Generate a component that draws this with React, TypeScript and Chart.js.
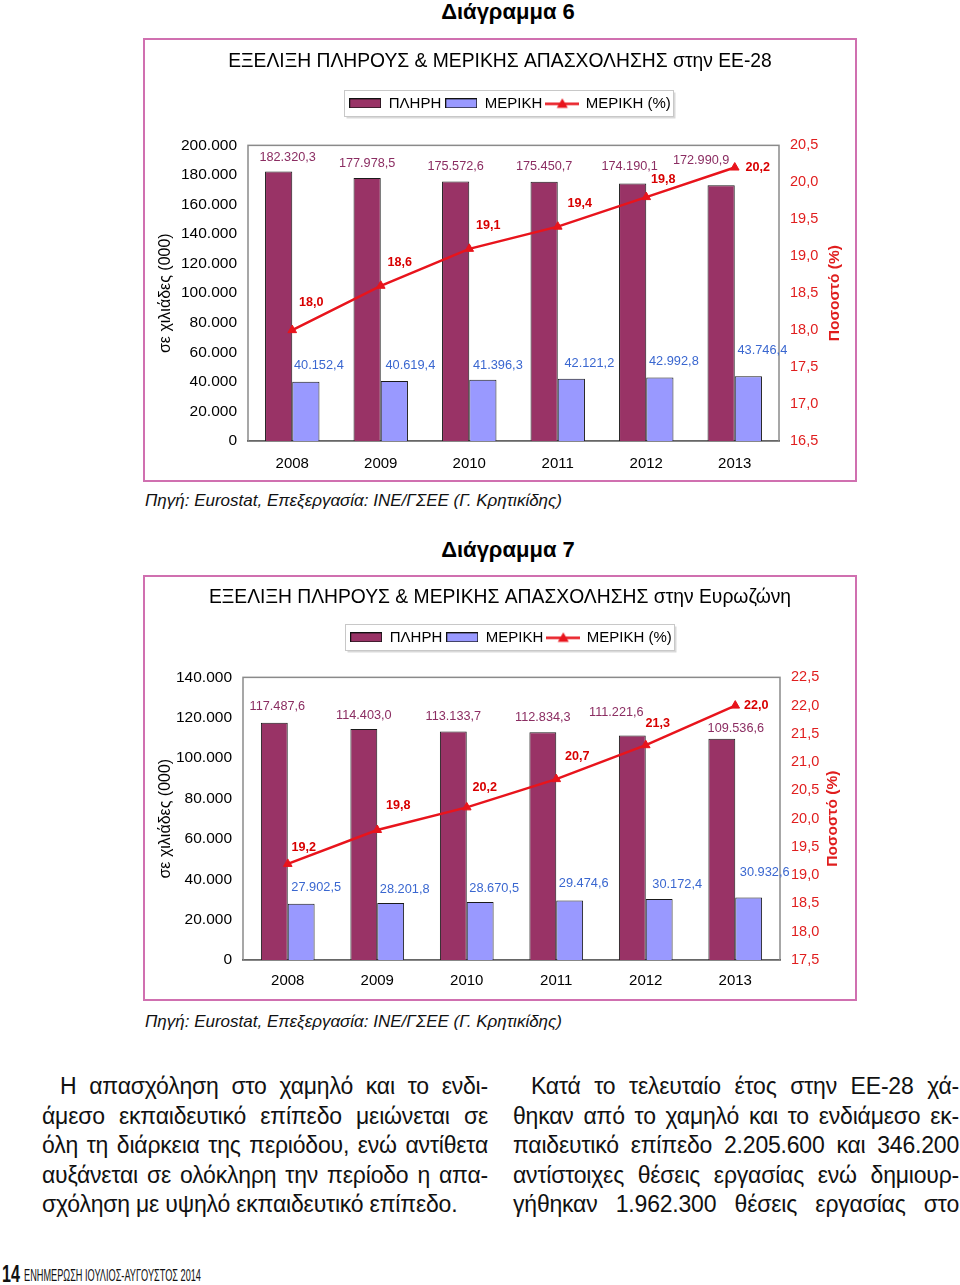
import { useEffect, useRef } from 'react';
import { Chart, registerables } from 'chart.js';

Chart.register(...registerables);

const F = "'Liberation Sans', Arial, Helvetica, sans-serif";

// ---- data ----
const years = ['2008', '2009', '2010', '2011', '2012', '2013'];
const seriesNames = ['ΠΛΗΡΗ', 'ΜΕΡΙΚΗ', 'ΜΕΡΙΚΗ (%)'];

const eu28Full = [182320.3, 177978.5, 175572.6, 175450.7, 174190.1, 172990.9];
const eu28Part = [40152.4, 40619.4, 41396.3, 42121.2, 42992.8, 43746.4];
const eu28Pct = [18.0, 18.6, 19.1, 19.4, 19.8, 20.2];
const eu28LeftTicks = [0, 20000, 40000, 60000, 80000, 100000, 120000, 140000, 160000, 180000, 200000];
const eu28RightTicks = [16.5, 17.0, 17.5, 18.0, 18.5, 19.0, 19.5, 20.0, 20.5];

const ezFull = [117487.6, 114403.0, 113133.7, 112834.3, 111221.6, 109536.6];
const ezPart = [27902.5, 28201.8, 28670.5, 29474.6, 30172.4, 30932.6];
const ezPct = [19.2, 19.8, 20.2, 20.7, 21.3, 22.0];
const ezLeftTicks = [0, 20000, 40000, 60000, 80000, 100000, 120000, 140000];
const ezRightTicks = [17.5, 18.0, 18.5, 19.0, 19.5, 20.0, 20.5, 21.0, 21.5, 22.0, 22.5];

const leftAxisTitle = 'σε χιλιάδες (000)';
const rightAxisTitle = 'Ποσοστό (%)';

// ---- styles ----
const COL_FULL = '#993366';
const COL_PART = '#9999FF';
const COL_LINE = '#E8141C';
const COL_FULL_LBL = '#8B2D62';
const COL_PART_LBL = '#3A67D0';
const COL_RED_TXT = '#E01E1E';

// label nudges (pixel offsets from each mark, as placed in the original)
const nudge6Full = [[9, -14], [0, -14], [0, -15], [0, -15], [-3, -17], [-20, -25]];
const nudge6Part = [[13, -16], [16, -15], [15, -14], [18, -15], [14, -16], [14, -26]];
const nudge6Pct = [[19, -28], [19, -23], [19, -23], [22, -23], [17, -18], [23, 0]];
const nudge7Full = [[3, -16], [0, -14], [0, -15], [0, -15], [-16, -23], [14, -10]];
const nudge7Part = [[15, -16], [14, -14], [14, -14], [14, -17], [18, -15], [16, -25]];
const nudge7Pct = [[16, -16], [21, -24], [18, -20], [21, -23], [12, -22], [21, 0]];

function fmt(v: number, dec: number) {
  const s = v.toFixed(dec);
  const [i, d] = s.split('.');
  const ii = i.replace(/\B(?=(\d{3})+(?!\d))/g, '.');
  return d ? ii + ',' + d : ii;
}

function rectSwatch(fill: string) {
  const c = document.createElement('canvas');
  c.width = 32;
  c.height = 10;
  const x = c.getContext('2d')!;
  x.fillStyle = fill;
  x.fillRect(0.5, 0.5, 31, 9);
  x.strokeStyle = '#111';
  x.lineWidth = 1;
  x.strokeRect(0.5, 0.5, 31, 9);
  return c;
}

function lineSwatch(color: string) {
  const c = document.createElement('canvas');
  c.width = 34;
  c.height = 12;
  const x = c.getContext('2d')!;
  x.strokeStyle = color;
  x.lineWidth = 2.5;
  x.beginPath();
  x.moveTo(0, 6.5);
  x.lineTo(34, 6.5);
  x.stroke();
  x.fillStyle = color;
  x.beginPath();
  x.moveTo(17, 1);
  x.lineTo(22.5, 10.5);
  x.lineTo(11.5, 10.5);
  x.closePath();
  x.fill();
  return c;
}

type Cfg = {
  title: string;
  full: number[];
  part: number[];
  pct: number[];
  leftTicks: number[];
  rightTicks: number[];
  nFull: number[][];
  nPart: number[][];
  nPct: number[][];
  catPct: number;
  titleTop: number;
  titleBottom: number;
  legendExtra: number;
  legendShift: number;
  leftW: number;
  rightW: number;
  xH: number;
  xPad: number;
  rightTitleX: number;
};

function makeChart(canvas: HTMLCanvasElement, cfg: Cfg) {
  const swatches = [rectSwatch(COL_FULL), rectSwatch(COL_PART), lineSwatch(COL_LINE)];

  const layoutTweak = {
    id: 'layoutTweak',
    beforeLayout(chart: any) {
      const lg = chart.legend;
      if (lg && !lg.__patched) {
        lg.__patched = true;
        const fit = lg.fit.bind(lg);
        lg.fit = function () {
          fit();
          this.height += cfg.legendExtra;
        };
        const draw = lg.draw.bind(lg);
        lg.draw = function () {
          const ctx = this.ctx;
          ctx.save();
          ctx.translate(cfg.legendShift, 0);
          draw();
          ctx.restore();
        };
      }
    },
    beforeDraw(chart: any) {
      const lg = chart.legend;
      const hb = lg && lg.legendHitBoxes;
      if (!hb || !hb.length) return;
      const ctx = chart.ctx;
      let l = Infinity, r = -Infinity;
      hb.forEach((h: any) => {
        l = Math.min(l, h.left);
        r = Math.max(r, h.left + h.width);
      });
      const cy = hb[0].top + 7.5;
      const x0 = Math.round(l - 5 + cfg.legendShift) + 0.5;
      const x1 = Math.round(r + 2 + cfg.legendShift) + 0.5;
      const y0 = Math.round(cy - 13) + 0.5;
      const y1 = Math.round(cy + 13) + 0.5;
      ctx.save();
      ctx.fillStyle = '#d9d9d9';
      ctx.fillRect(x0 + 2, y0 + 2, x1 - x0, y1 - y0);
      ctx.fillStyle = '#ffffff';
      ctx.fillRect(x0, y0, x1 - x0, y1 - y0);
      ctx.strokeStyle = '#c8c8c8';
      ctx.lineWidth = 1;
      ctx.strokeRect(x0, y0, x1 - x0, y1 - y0);
      ctx.restore();
    },
    beforeDatasetsDraw(chart: any) {
      const a = chart.chartArea;
      const ctx = chart.ctx;
      ctx.save();
      ctx.strokeStyle = '#8a8a8a';
      ctx.lineWidth = 1.5;
      ctx.strokeRect(a.left, a.top, a.right - a.left, a.bottom - a.top);
      ctx.restore();
    },
    afterDatasetsDraw(chart: any) {
      const ctx = chart.ctx;
      ctx.save();
      ctx.textBaseline = 'middle';
      ctx.textAlign = 'center';
      const nudges = [cfg.nFull, cfg.nPart, cfg.nPct];
      chart.data.datasets.forEach((ds: any, di: number) => {
        const meta = chart.getDatasetMeta(di);
        meta.data.forEach((el: any, i: number) => {
          const v = ds.data[i];
          const [dx, dy] = nudges[di][i];
          if (di === 0) {
            ctx.fillStyle = COL_FULL_LBL;
            ctx.font = `12.7px ${F}`;
          } else if (di === 1) {
            ctx.fillStyle = COL_PART_LBL;
            ctx.font = `12.8px ${F}`;
          } else {
            ctx.fillStyle = '#D80000';
            ctx.font = `bold 12.6px ${F}`;
          }
          ctx.fillText(fmt(v, 1), el.x + dx, el.y + dy);
        });
      });
      ctx.restore();
    },
    afterDraw(chart: any) {
      const a = chart.chartArea;
      const ctx = chart.ctx;
      ctx.save();
      ctx.translate(cfg.rightTitleX, (a.top + a.bottom) / 2);
      ctx.rotate(-Math.PI / 2);
      ctx.textAlign = 'center';
      ctx.textBaseline = 'middle';
      ctx.fillStyle = COL_RED_TXT;
      ctx.font = `bold 15.5px ${F}`;
      ctx.fillText(rightAxisTitle, 0, 0);
      ctx.restore();
    },
  };

  const bar = {
    categoryPercentage: cfg.catPct,
    barPercentage: 1,
    borderColor: '#1a1a1a',
    borderWidth: 1,
    yAxisID: 'y',
    order: 1,
  };

  return new Chart(canvas, {
    type: 'bar',
    data: {
      labels: years,
      datasets: [
        { ...bar, type: 'bar', label: seriesNames[0], data: cfg.full, backgroundColor: COL_FULL } as any,
        { ...bar, type: 'bar', label: seriesNames[1], data: cfg.part, backgroundColor: COL_PART } as any,
        {
          type: 'line',
          label: seriesNames[2],
          data: cfg.pct,
          borderColor: COL_LINE,
          backgroundColor: COL_LINE,
          borderWidth: 2.5,
          pointStyle: 'triangle',
          pointRadius: 5,
          pointBorderWidth: 1,
          yAxisID: 'y1',
          order: 0,
        } as any,
      ],
    },
    options: {
      responsive: false,
      animation: false,
      devicePixelRatio: 1,
      layout: { padding: 0 },
      plugins: {
        title: {
          display: true,
          text: cfg.title,
          color: '#000',
          font: { family: F, size: 19.3, weight: 'normal' },
          padding: { top: cfg.titleTop, bottom: cfg.titleBottom },
        },
        legend: {
          display: true,
          position: 'top',
          labels: {
            usePointStyle: true,
            pointStyleWidth: 32,
            boxWidth: 32,
            boxHeight: 12,
            padding: 4,
            color: '#000',
            font: { family: F, size: 15 },
            generateLabels: (chart: any) => {
              const items = (Chart.defaults.plugins.legend.labels as any).generateLabels(chart);
              items.sort((a: any, b: any) => a.datasetIndex - b.datasetIndex);
              return items.map((it: any) => ({ ...it, pointStyle: swatches[it.datasetIndex], lineWidth: 0 }));
            },
          },
        },
        tooltip: { enabled: false },
      },
      scales: {
        x: {
          grid: { display: false, drawTicks: false },
          border: { display: true, color: '#000', width: 1.5 },
          ticks: { color: '#000', font: { family: F, size: 15 }, padding: cfg.xPad },
          afterFit: (s: any) => {
            s.height = cfg.xH;
          },
        },
        y: {
          position: 'left',
          min: cfg.leftTicks[0],
          max: cfg.leftTicks[cfg.leftTicks.length - 1],
          grid: { display: false, drawTicks: false },
          border: { display: false },
          ticks: {
            color: '#000',
            font: { family: F, size: 15.5 },
            padding: 11,
            callback: (v: any) => fmt(Number(v), 0),
          },
          title: {
            display: true,
            text: leftAxisTitle,
            color: '#000',
            font: { family: F, size: 16 },
            padding: { top: 11, bottom: 0 },
          },
          afterBuildTicks: (s: any) => {
            s.ticks = cfg.leftTicks.map((v) => ({ value: v }));
          },
          afterFit: (s: any) => {
            s.width = cfg.leftW;
          },
        },
        y1: {
          position: 'right',
          min: cfg.rightTicks[0],
          max: cfg.rightTicks[cfg.rightTicks.length - 1],
          grid: { display: false, drawTicks: false },
          border: { display: false },
          ticks: {
            color: COL_RED_TXT,
            font: { family: F, size: 14.5 },
            padding: 11,
            callback: (v: any) => fmt(Number(v), 1),
          },
          afterBuildTicks: (s: any) => {
            s.ticks = cfg.rightTicks.map((v) => ({ value: v }));
          },
          afterFit: (s: any) => {
            s.width = cfg.rightW;
          },
        },
      },
    } as any,
    plugins: [layoutTweak as any],
  });
}

function ComboChart({ cfg, left, top, width, height }: { cfg: Cfg; left: number; top: number; width: number; height: number }) {
  const ref = useRef<HTMLCanvasElement>(null);
  useEffect(() => {
    if (!ref.current) return;
    const ch = makeChart(ref.current, cfg);
    return () => ch.destroy();
  }, []);
  return (
    <canvas
      ref={ref}
      width={width}
      height={height}
      style={{ position: 'absolute', left, top, width, height, display: 'block' }}
    />
  );
}

const cfg6: Cfg = {
  title: 'ΕΞΕΛΙΞΗ ΠΛΗΡΟΥΣ & ΜΕΡΙΚΗΣ ΑΠΑΣΧΟΛΗΣΗΣ στην ΕΕ-28',
  full: eu28Full,
  part: eu28Part,
  pct: eu28Pct,
  leftTicks: eu28LeftTicks,
  rightTicks: eu28RightTicks,
  nFull: nudge6Full,
  nPart: nudge6Part,
  nPct: nudge6Pct,
  catPct: 0.615,
  titleTop: 10,
  titleBottom: 18.7,
  legendExtra: 24.5,
  legendShift: 10,
  leftW: 103,
  rightW: 76,
  xH: 39,
  xPad: 14,
  rightTitleX: 690,
};

const cfg7: Cfg = {
  title: 'ΕΞΕΛΙΞΗ ΠΛΗΡΟΥΣ & ΜΕΡΙΚΗΣ ΑΠΑΣΧΟΛΗΣΗΣ στην Ευρωζώνη',
  full: ezFull,
  part: ezPart,
  pct: ezPct,
  leftTicks: ezLeftTicks,
  rightTicks: ezRightTicks,
  nFull: nudge7Full,
  nPart: nudge7Part,
  nPct: nudge7Pct,
  catPct: 0.6,
  titleTop: 9,
  titleBottom: 16.7,
  legendExtra: 22.5,
  legendShift: 11,
  leftW: 98,
  rightW: 75,
  xH: 39,
  xPad: 12,
  rightTitleX: 688,
};

const source = 'Πηγή: Eurostat, Επεξεργασία: ΙΝΕ/ΓΣΕΕ (Γ. Κρητικίδης)';

const leftCol = [
  'Η απασχόληση στο χαμηλό και το ενδι-',
  'άμεσο εκπαιδευτικό επίπεδο μειώνεται σε',
  'όλη τη διάρκεια της περιόδου, ενώ αντίθετα',
  'αυξάνεται σε ολόκληρη την περίοδο η απα-',
  'σχόληση με υψηλό εκπαιδευτικό επίπεδο.',
];
const rightCol = [
  'Κατά το τελευταίο έτος στην ΕΕ-28 χά-',
  'θηκαν από το χαμηλό και το ενδιάμεσο εκ-',
  'παιδευτικό επίπεδο 2.205.600 και 346.200',
  'αντίστοιχες θέσεις εργασίας ενώ δημιουρ-',
  'γήθηκαν 1.962.300 θέσεις εργασίας στο',
];

function Column({ lines, left, lastJustify }: { lines: string[]; left: number; lastJustify: boolean }) {
  return (
    <div style={{ position: 'absolute', left, top: 1072, width: 446 }}>
      {lines.map((t, i) => {
        const justify = i < lines.length - 1 || lastJustify;
        return (
          <div
            key={i}
            style={{
              height: 29.5,
              lineHeight: '29.5px',
              fontSize: 23,
              fontFamily: F,
              color: '#111',
              whiteSpace: 'nowrap',
              paddingLeft: i === 0 ? 18 : 0,
              textAlign: justify ? 'justify' : 'left',
              textAlignLast: justify ? 'justify' : 'left',
              letterSpacing: -0.2,
            } as any}
          >
            {t}
          </div>
        );
      })}
    </div>
  );
}

export default function App() {
  const frame = (top: number, height: number) => (
    <div
      style={{
        position: 'absolute',
        left: 143,
        top,
        width: 714,
        height,
        boxSizing: 'border-box',
        border: '2px solid #D070B0',
      }}
    />
  );
  const heading = (text: string, top: number) => (
    <div
      style={{
        position: 'absolute',
        left: 308,
        top,
        width: 400,
        textAlign: 'center',
        fontFamily: F,
        fontWeight: 'bold',
        fontSize: 22,
        lineHeight: '24px',
        color: '#000',
      }}
    >
      {text}
    </div>
  );
  const src = (top: number) => (
    <div
      style={{
        position: 'absolute',
        left: 145,
        top,
        fontFamily: F,
        fontStyle: 'italic',
        fontSize: 17,
        lineHeight: '20px',
        color: '#111',
        whiteSpace: 'nowrap',
      }}
    >
      {source}
    </div>
  );
  return (
    <div
      style={{
        position: 'absolute',
        left: 0,
        top: 0,
        width: 960,
        height: 1285,
        background: '#fff',
        overflow: 'hidden',
      }}
    >
      {heading('Διάγραμμα 6', 0)}
      {frame(38, 444)}
      <ComboChart cfg={cfg6} left={145} top={40} width={710} height={440} />
      {src(491)}

      {heading('Διάγραμμα 7', 538)}
      {frame(575, 426)}
      <ComboChart cfg={cfg7} left={145} top={577} width={710} height={422} />
      {src(1012)}

      <Column lines={leftCol} left={42} lastJustify={false} />
      <Column lines={rightCol} left={513} lastJustify={true} />

      <div
        style={{
          position: 'absolute',
          left: 2,
          top: 1262,
          fontFamily: F,
          fontWeight: 'bold',
          fontSize: 23,
          lineHeight: '24px',
          transform: 'scaleX(0.7)',
          transformOrigin: 'left top',
          color: '#111',
        }}
      >
        14
      </div>
      <div
        style={{
          position: 'absolute',
          left: 24,
          top: 1267,
          fontFamily: F,
          fontSize: 16,
          lineHeight: '18px',
          whiteSpace: 'nowrap',
          transform: 'scaleX(0.574)',
          transformOrigin: 'left top',
          color: '#111',
        }}
      >
        ΕΝΗΜΕΡΩΣΗ ΙΟΥΛΙΟΣ-ΑΥΓΟΥΣΤΟΣ 2014
      </div>
    </div>
  );
}
